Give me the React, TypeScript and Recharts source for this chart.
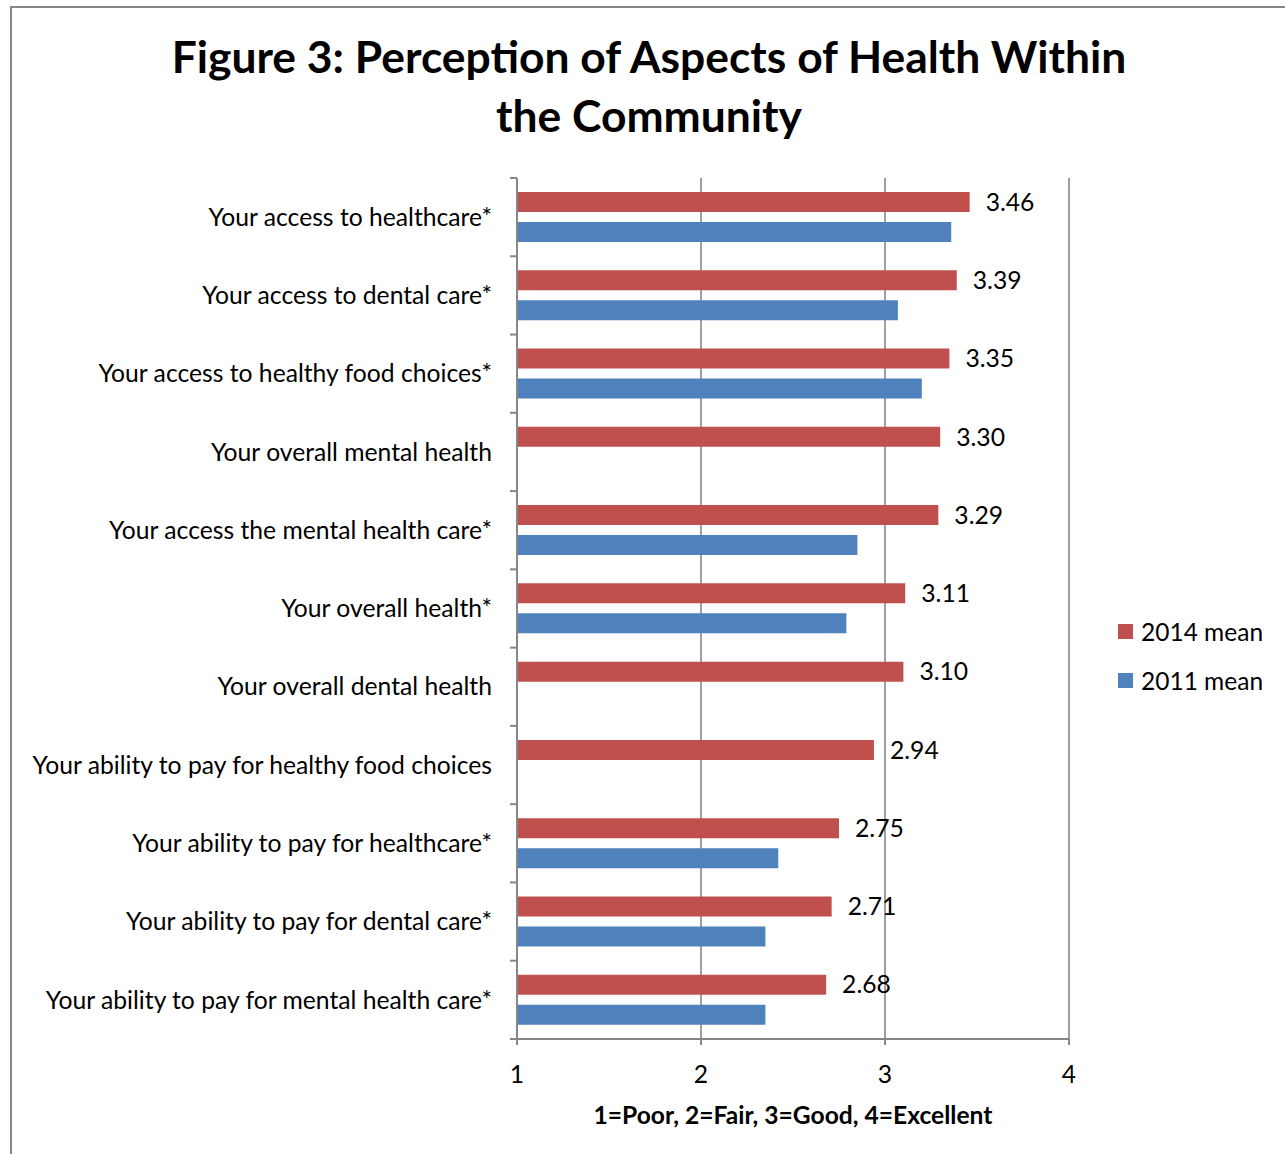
import React from 'react'
import { BarChart, Bar, XAxis, YAxis, CartesianGrid, LabelList } from 'recharts'

const categories = [
  'Your access to healthcare*',
  'Your access to dental care*',
  'Your access to healthy food choices*',
  'Your overall mental health',
  'Your access the mental health care*',
  'Your overall health*',
  'Your overall dental health',
  'Your ability to pay for healthy food choices',
  'Your ability to pay for healthcare*',
  'Your ability to pay for dental care*',
  'Your ability to pay for mental health care*',
]
const mean2014 = [3.46, 3.39, 3.35, 3.3, 3.29, 3.11, 3.1, 2.94, 2.75, 2.71, 2.68]
const mean2011 = [3.36, 3.07, 3.2, null, 2.85, 2.79, null, null, 2.42, 2.35, 2.35]
const xTicks = [1, 2, 3, 4]

const rows = categories.map((name, i) => ({ name, y2014: mean2014[i], y2011: mean2011[i] }))

const W = 1285
const H = 1154
const TOP = 178
const BOTTOM = 115
const AXIS_W = 517
const RIGHT = 216
const TICK = 7
const TICK_GAP = 18
const BAND = (H - TOP - BOTTOM) / categories.length
const GRAY = '#878787'
const FONT = 'Lato, "Noto Sans", sans-serif'
const RED = '#C0504D'
const BLUE = '#4F81BD'
const FS = 24.7

// category label plus the boundary tick above it (and below the last one)
function CategoryTick(props: any) {
  const { x, y, payload, index } = props
  const ax = x + TICK + TICK_GAP
  const last = index === categories.length - 1
  return (
    <g>
      <line x1={ax - TICK} x2={ax} y1={y - BAND / 2} y2={y - BAND / 2} stroke={GRAY} strokeWidth={2} />
      {last && <line x1={ax - TICK} x2={ax} y1={y + BAND / 2} y2={y + BAND / 2} stroke={GRAY} strokeWidth={2} />}
      <text x={x} y={y} dy="0.35em" textAnchor="end" fontSize={FS} fill="#000" fontFamily={FONT}>
        {payload.value}
      </text>
    </g>
  )
}

const legend = [
  { label: '2014 mean', color: RED },
  { label: '2011 mean', color: BLUE },
]

export default function App() {
  return (
    <div style={{ position: 'absolute', left: 0, top: 0, width: W, height: H, background: '#fff', fontFamily: FONT }}>
      <div style={{ position: 'absolute', left: 10, top: 6, right: -2, bottom: -2, borderLeft: `2px solid ${GRAY}`, borderTop: `2px solid ${GRAY}` }} />
      <div style={{ position: 'absolute', left: 0, width: 1298, top: 26, textAlign: 'center', fontWeight: 700, fontSize: 44.4, lineHeight: '59px', color: '#000' }}>
        Figure 3: Perception of Aspects of Health Within
        <br />
        the Community
      </div>
      <div style={{ position: 'absolute', left: 0, top: 0 }}>
        <BarChart width={W} height={H} data={rows} layout="vertical" margin={{ top: TOP, right: RIGHT, bottom: 0, left: 0 }} barSize={20} barGap={10}>
          <CartesianGrid horizontal={false} vertical stroke={GRAY} strokeWidth={1.6} />
          <XAxis
            type="number"
            domain={[1, 4]}
            ticks={xTicks}
            allowDataOverflow
            height={BOTTOM}
            tickSize={6}
            tickMargin={20}
            axisLine={{ stroke: GRAY, strokeWidth: 2 }}
            tickLine={{ stroke: GRAY, strokeWidth: 2 }}
            tick={{ fill: '#000', fontSize: FS, fontFamily: FONT }}
            label={{ value: '1=Poor, 2=Fair, 3=Good, 4=Excellent', position: 'insideBottom', offset: 30, fill: '#000', fontSize: 24.6, fontWeight: 700, fontFamily: FONT }}
          />
          <YAxis
            type="category"
            dataKey="name"
            width={AXIS_W}
            tickSize={TICK}
            tickMargin={TICK_GAP}
            tickLine={false}
            axisLine={{ stroke: GRAY, strokeWidth: 2 }}
            tick={(p: any) => <CategoryTick {...p} />}
            interval={0}
          />
          <Bar dataKey="y2014" fill={RED} isAnimationActive={false}>
            <LabelList dataKey="y2014" position="right" offset={16} formatter={(v: any) => Number(v).toFixed(2)} fill="#000" fontSize={FS} fontFamily={FONT} />
          </Bar>
          <Bar dataKey="y2011" fill={BLUE} isAnimationActive={false} />
        </BarChart>
      </div>
      {legend.map((l, i) => (
        <div key={l.label} style={{ position: 'absolute', left: 1118, top: 617 + i * 49, height: 28, display: 'flex', alignItems: 'center', fontSize: 24.5, color: '#000' }}>
          <span style={{ width: 15, height: 15, background: l.color, marginRight: 8 }} />
          {l.label}
        </div>
      ))}
    </div>
  )
}
